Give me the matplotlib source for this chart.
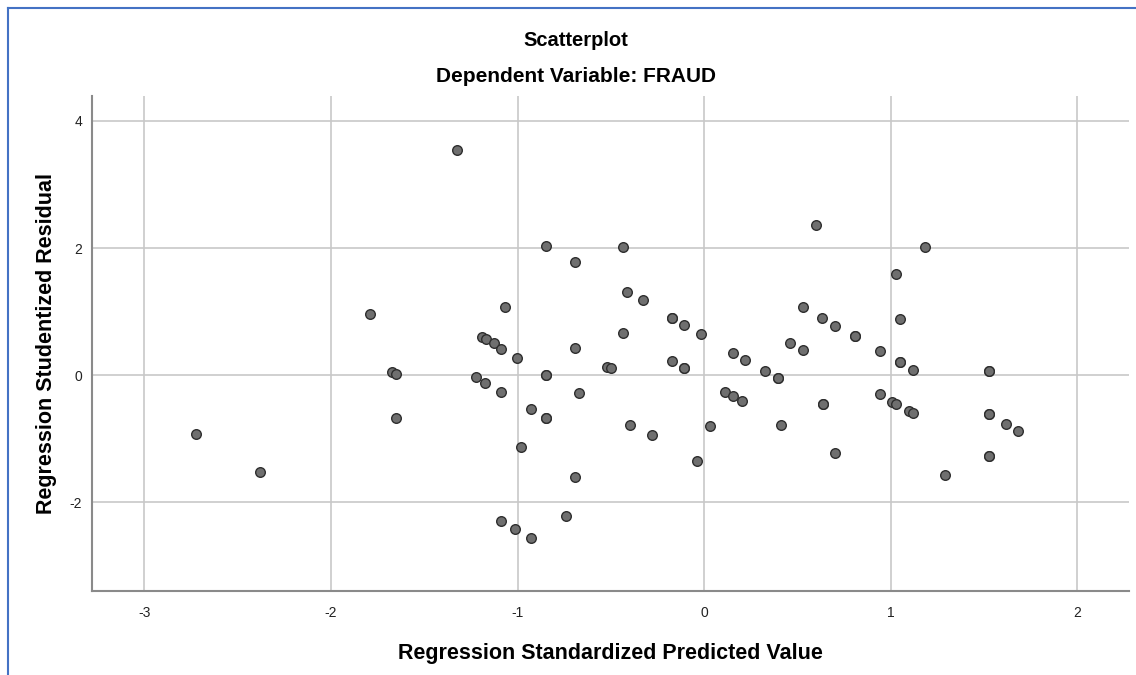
import matplotlib
matplotlib.use("Agg")
import matplotlib.pyplot as plt
from matplotlib.lines import Line2D

plt.rcParams['font.family'] = ['Liberation Sans', 'DejaVu Sans']
plt.rcParams['axes.unicode_minus'] = False

title_main = "Scatterplot"
title_sub = "Dependent Variable: FRAUD"
x_label = "Regression Standardized Predicted Value"
y_label = "Regression Studentized Residual"

x_ticks = [-3, -2, -1, 0, 1, 2]
y_ticks = [-2, 0, 2, 4]

pred_left = [-2.725, -2.381, -1.791, -1.675, -1.653, -1.654]
resid_left = [-0.923, -1.516, 0.959, 0.047, 0.016, -0.667]

pred_mid = [-1.326, -0.848, -0.433, -0.693, -0.415, -0.328, -1.067, -0.173, -0.173,
            -0.107, -0.019, -0.435, -1.193, -1.169, -1.125, -1.087, -0.693, -1.002,
            0.152, 0.219, 0.325, -0.174, -0.107, -0.107, -0.520, -0.499, -0.848,
            -0.848, -1.222, -1.173, -1.087, -0.672, 0.112, 0.152, 0.200, -0.931,
            -0.848, -0.848, -0.397, 0.029, -0.278, -0.982, -0.041, -0.693, -0.743,
            -1.087, -1.016, -0.931]
resid_mid = [3.538, 2.033, 2.013, 1.781, 1.315, 1.179, 1.069, 0.906, 0.906,
             0.791, 0.644, 0.665, 0.607, 0.566, 0.503, 0.419, 0.430, 0.273,
             0.351, 0.241, 0.063, 0.230, 0.121, 0.121, 0.136, 0.110, 0.010,
             0.010, -0.032, -0.116, -0.262, -0.278, -0.262, -0.320, -0.409, -0.525,
             -0.671, -0.671, -0.776, -0.802, -0.943, -1.127, -1.347, -1.604, -2.208,
             -2.291, -2.421, -2.552]

pred_right = [0.598, 1.183, 1.026, 0.528, 0.632, 0.703, 0.807, 0.807, 1.048,
              0.460, 0.528, 0.942, 1.048, 1.048, 1.116, 0.395, 0.395, 1.528, 1.528,
              0.942, 1.007, 1.030, 1.096, 1.117, 0.634, 0.634, 0.411, 1.528, 1.528,
              1.615, 1.681, 0.703, 1.528, 1.528, 1.289]
resid_right = [2.368, 2.022, 1.593, 1.079, 0.896, 0.780, 0.613, 0.613, 0.880,
               0.513, 0.403, 0.382, 0.204, 0.204, 0.088, -0.047, -0.047, 0.068, 0.068,
               -0.299, -0.415, -0.446, -0.561, -0.593, -0.456, -0.456, -0.775, -0.613, -0.613,
               -0.765, -0.879, -1.220, -1.273, -1.273, -1.568]

x_vals = pred_left + pred_mid + pred_right
y_vals = resid_left + resid_mid + resid_right

fig = plt.figure(figsize=(11.36, 6.75), dpi=100)
ax = fig.add_axes([92/1136, 1 - 591/675, (1129 - 92)/1136, (591 - 96)/675])

ax.set_xlim(-3.281, 2.276)
ax.set_ylim(-3.392, 4.392)
ax.set_xticks(x_ticks)
ax.set_yticks(y_ticks)
ax.set_xticklabels([str(t) for t in x_ticks])
ax.set_yticklabels([str(t) for t in y_ticks])
ax.grid(True, color='#c8c8c8', linewidth=1.2)
ax.set_axisbelow(True)
ax.tick_params(length=0, labelsize=10, colors='#222222', pad=7)
ax.tick_params(axis='x', pad=11)
for s in ['top', 'right']:
    ax.spines[s].set_visible(False)
for s in ['left', 'bottom']:
    ax.spines[s].set_color('#8a8a8a')
    ax.spines[s].set_linewidth(1.5)

ax.scatter(x_vals, y_vals, s=48, facecolor='#6f6f6f', edgecolor='#2e2e2e', linewidths=1.0, zorder=3)

ax.set_xlabel(x_label, fontsize=15.5, fontweight='bold', labelpad=16)
ax.set_ylabel(y_label, fontsize=15.5, fontweight='bold', labelpad=9)
ax.yaxis.label.set_position((0, (591 - 343.5) / (591 - 96)))

fig.text(576/1136, 1 - 40/675, title_main, ha='center', va='center', fontsize=14.5, fontweight='bold')
fig.text(576/1136, 1 - 77/675, title_sub, ha='center', va='center', fontsize=15, fontweight='bold')

# blue frame
fig.add_artist(Line2D([7.5/1136, 1], [1 - 8/675, 1 - 8/675], transform=fig.transFigure, color='#4472c4', linewidth=1.5))
fig.add_artist(Line2D([7.5/1136, 7.5/1136], [0, 1 - 8/675], transform=fig.transFigure, color='#4472c4', linewidth=1.5))

fig.savefig("out.png", dpi=100)
